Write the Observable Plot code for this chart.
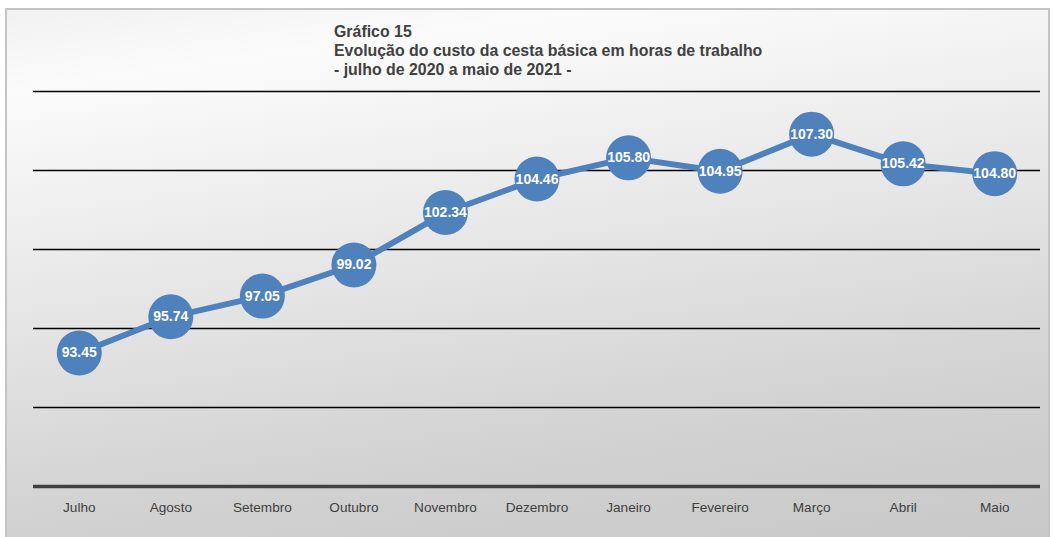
<!DOCTYPE html>
<html>
<head>
<meta charset="utf-8">
<script src="https://cdn.jsdelivr.net/npm/d3@7"></script>
<script src="https://cdn.jsdelivr.net/npm/@observablehq/plot@0.6"></script>
<style>
  html, body { margin: 0; padding: 0; background: #ffffff; }
  #wrap { position: relative; width: 1055px; height: 537px; overflow: hidden; font-family: "Liberation Sans", Arial, sans-serif; }
  #frame { position: absolute; left: 5px; top: 8px; width: 1041px; height: 533px; border: 2px solid #c4c4c4;
           background: linear-gradient(172deg, #f1f1f1 0%, #fbfbfb 12%, #e6e6e6 45%, #d2d2d2 75%, #c8c8c8 100%); }
  #title { position: absolute; left: 334px; top: 22px; font-weight: bold; font-size: 15.9px; line-height: 19px; color: #404040; }
  #chart { position: absolute; left: 0; top: 0; }
</style>
</head>
<body>
<div id="wrap">
  <div id="frame"></div>
  <div id="chart"></div>
  <div id="title">Gráfico 15<br>Evolução do custo da cesta básica em horas de trabalho<br>- julho de 2020 a maio de 2021 -</div>
</div>
<script>
const months = ["Julho","Agosto","Setembro","Outubro","Novembro","Dezembro","Janeiro","Fevereiro","Março","Abril","Maio"];
const values = [93.45, 95.74, 97.05, 99.02, 102.34, 104.46, 105.80, 104.95, 107.30, 105.42, 104.80];
const gridTicks = [90, 95, 100, 105, 110];
const baseTick = [85];

const data = months.map((m, i) => ({month: m, value: values[i]}));
const blue = "#4f81bd";

const chart = Plot.plot({
  width: 1055,
  height: 537,
  marginLeft: 33,
  marginRight: 15,
  marginTop: 91,
  marginBottom: 51,
  style: {background: "transparent", fontFamily: "'Liberation Sans', Arial, sans-serif", color: "#404040"},
  x: {type: "point", domain: months, padding: 0.5, round: false, label: null},
  y: {domain: [85, 110], axis: null},
  marks: [
    Plot.ruleY(gridTicks, {stroke: "#000000", strokeWidth: 1.5}),
    Plot.ruleY(baseTick, {stroke: "#404040", strokeWidth: 3.5}),
    Plot.axisX({tickSize: 0, tickPadding: 15.5, fontSize: 13.6, fill: "#404040"}),
    Plot.line(data, {x: "month", y: "value", stroke: blue, strokeWidth: 6}),
    Plot.dot(data, {x: "month", y: "value", r: 22.5, fill: blue, stroke: "none"}),
    Plot.text(data, {x: "month", y: "value", text: d => d.value.toFixed(2), fill: "white", fontWeight: "bold", fontSize: 14})
  ]
});
document.getElementById("chart").appendChild(chart);
</script>
</body>
</html>
